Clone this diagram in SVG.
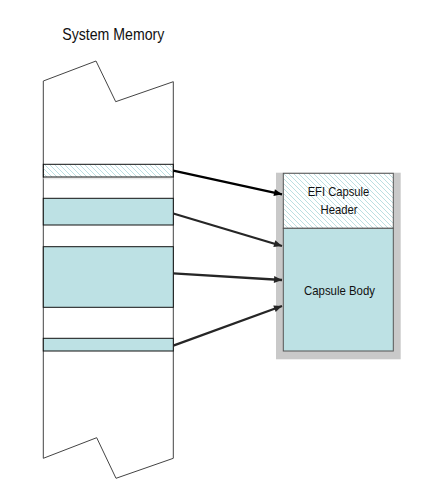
<svg xmlns="http://www.w3.org/2000/svg" width="424" height="486" viewBox="0 0 424 486">
  <defs>
    <pattern id="hatch" patternUnits="userSpaceOnUse" width="5" height="5">
      <path d="M0,0 L5,5 M-1,4 L1,6 M4,-1 L6,1" stroke="#b3dbde" stroke-width="0.9"/>
    </pattern>
    <marker id="arrow" markerUnits="userSpaceOnUse" markerWidth="10" markerHeight="10" viewBox="0 0 10 10" refX="9" refY="5" orient="auto">
      <path d="M1,1.5 L9,5 L1,8.5 Z" fill="context-stroke"/>
    </marker>
    <marker id="arrowk" markerUnits="userSpaceOnUse" markerWidth="10" markerHeight="10" viewBox="0 0 10 10" refX="9" refY="5" orient="auto">
      <path d="M1,1.5 L9,5 L1,8.5 Z" fill="#000"/>
    </marker>
    <marker id="arrowg" markerUnits="userSpaceOnUse" markerWidth="10" markerHeight="10" viewBox="0 0 10 10" refX="9" refY="5" orient="auto">
      <path d="M1,1.5 L9,5 L1,8.5 Z" fill="#262626"/>
    </marker>
  </defs>
  <style>
    text { font-family: "Liberation Sans", Arial, sans-serif; fill: #111; }
    .band { stroke: #111; stroke-width: 1; }
    .blue { fill: #bde1e4; }
    .conn { fill: none; stroke-width: 2.3; }
  </style>

  <g id="title">
    <text x="62.3" y="40" font-size="17" textLength="102" lengthAdjust="spacingAndGlyphs">System Memory</text>
  </g>

  <g id="system-memory">
    <polygon points="43.3,81 96,61 115.7,101.7 173.3,81.7 173.3,458.3 116,478.3 96.7,437.7 43.3,458.3" fill="#fff" stroke="#444" stroke-width="1"/>
    <line x1="43.3" y1="178.7" x2="173.3" y2="178.7" stroke="#ddd" stroke-width="0.8"/>
    <rect id="mem-header-band" class="band" x="43.3" y="164.3" width="130" height="12.7" fill="url(#hatch)" stroke="#444"/>
    <rect id="mem-band-1" class="band blue" x="43.3" y="198.3" width="130" height="26.7"/>
    <rect id="mem-band-2" class="band blue" x="43.3" y="246.7" width="130" height="60.6"/>
    <rect id="mem-band-3" class="band blue" x="43.3" y="338.3" width="130" height="12.7"/>
  </g>

  <g id="capsule">
    <rect x="276" y="172.7" width="124.7" height="186.6" fill="#c9c9c9"/>
    <g id="capsule-header">
      <rect x="283.3" y="173.3" width="110" height="55" fill="#fff"/>
      <rect x="283.3" y="173.3" width="110" height="55" fill="url(#hatch)" stroke="#555" stroke-width="1"/>
      <text x="338.5" y="195.7" font-size="13.5" text-anchor="middle" textLength="61.7" lengthAdjust="spacingAndGlyphs">EFI Capsule</text>
      <text x="339" y="214.3" font-size="13.5" text-anchor="middle" textLength="37" lengthAdjust="spacingAndGlyphs">Header</text>
    </g>
    <g id="capsule-body">
      <rect x="283.3" y="228.3" width="110" height="122.7" class="blue" stroke="#555" stroke-width="1"/>
      <text x="339.5" y="295" font-size="13.5" text-anchor="middle" textLength="71" lengthAdjust="spacingAndGlyphs">Capsule Body</text>
    </g>
  </g>

  <g id="connectors">
    <line class="conn" x1="173.3" y1="170.7" x2="282" y2="194.3" stroke="#000" marker-end="url(#arrowk)"/>
    <line class="conn" x1="173.3" y1="213.5" x2="282" y2="246" stroke="#262626" marker-end="url(#arrowg)"/>
    <line class="conn" x1="173.3" y1="273.3" x2="282" y2="280" stroke="#262626" marker-end="url(#arrowg)"/>
    <line class="conn" x1="173.3" y1="345.7" x2="282" y2="306" stroke="#262626" marker-end="url(#arrowg)"/>
  </g>
</svg>
